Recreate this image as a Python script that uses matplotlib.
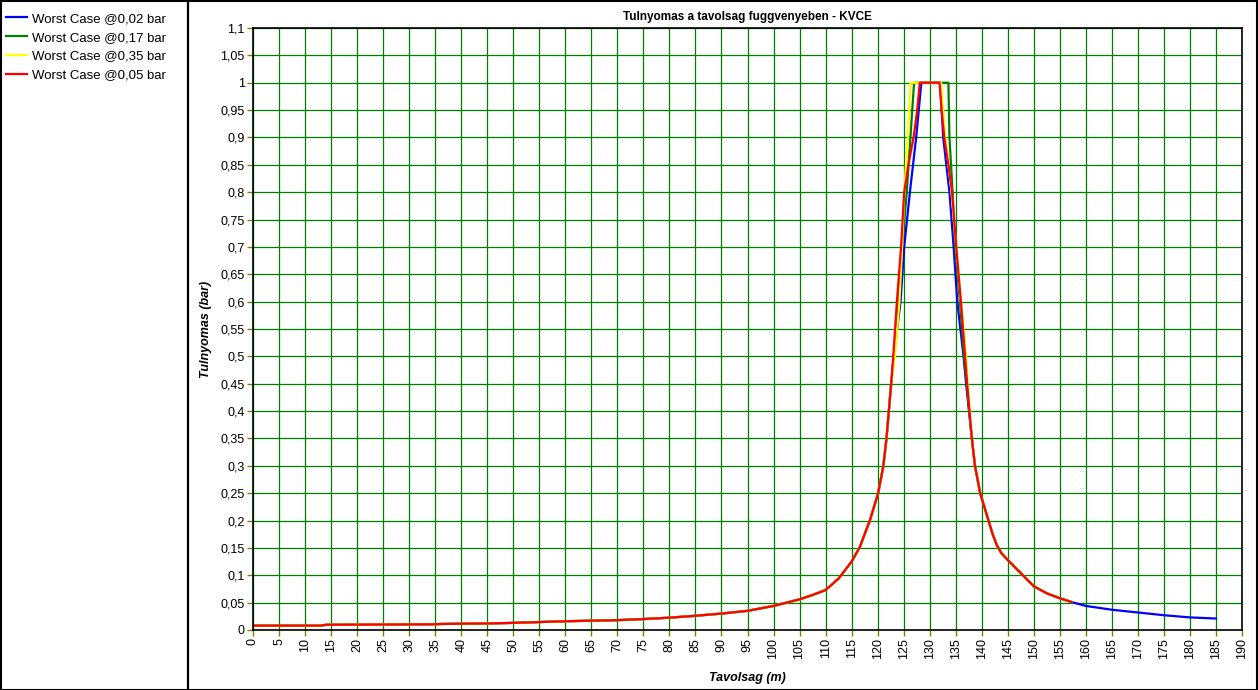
import matplotlib
matplotlib.use("Agg")
import matplotlib.pyplot as plt
from matplotlib.lines import Line2D
from matplotlib.patches import Rectangle
from matplotlib.ticker import MultipleLocator, FuncFormatter

plt.rcParams['font.family'] = ['Liberation Sans', 'DejaVu Sans']

# shared flanks of the curves (distance m, overpressure bar)
left_d = [0, 13, 14, 35, 36, 45, 50, 55, 60, 65, 70, 75, 80, 85, 90, 95,
          100, 105, 107.5, 110, 112.5, 115, 116.6, 117.5, 118.5, 120.1, 121.1, 121.7, 122.6]
left_p = [0.008, 0.008, 0.0095, 0.0105, 0.011, 0.012, 0.013, 0.0145, 0.016, 0.017,
          0.018, 0.020, 0.0225, 0.026, 0.030, 0.035, 0.044, 0.056, 0.064, 0.073, 0.094,
          0.125, 0.152, 0.175, 0.20, 0.25, 0.30, 0.35, 0.45]
right_d = [138.1, 138.7, 139.7, 141.3, 142.1, 142.9, 143.8, 145, 147.5, 150, 152.5, 155, 157.3]
right_p = [0.35, 0.30, 0.25, 0.20, 0.175, 0.155, 0.14, 0.128, 0.104, 0.080, 0.067, 0.058, 0.051]
tail_d = [160, 165, 170, 175, 180, 185]          # only the 0,02 bar case goes on
tail_p = [0.044, 0.037, 0.032, 0.027, 0.023, 0.021]

# peak sections per case
peak_d_002 = [123.1, 124.4, 125.1, 126.2, 127.4, 128.4, 132.0, 132.6, 133.8, 134.6, 135.3, 136.5, 137.0]
peak_p_002 = [0.5, 0.6, 0.7, 0.8, 0.9, 1.0, 1.0, 0.9, 0.8, 0.7, 0.6, 0.5, 0.45]
peak_d_017 = [123.1, 123.9, 124.7, 125.6, 126.3, 127.0, 133.6, 133.8, 134.4, 134.9, 135.8, 136.6, 137.1]
peak_p_017 = [0.5, 0.6, 0.7, 0.8, 0.9, 1.0, 1.0, 0.9, 0.8, 0.7, 0.6, 0.5, 0.45]
peak_d_035 = [123.3, 124.2, 124.7, 125.1, 125.8, 126.3, 132.2, 133.0, 134.2, 135.1, 136.0, 137.0, 137.3]
peak_p_035 = [0.5, 0.6, 0.7, 0.8, 0.9, 1.0, 1.0, 0.9, 0.8, 0.7, 0.6, 0.5, 0.45]
peak_d_005 = [123.0, 123.7, 124.5, 125.1, 125.9, 126.9, 127.6, 128.1, 131.9, 132.3, 132.8,
              133.6, 134.3, 135.1, 136.0, 136.8, 137.2]
peak_p_005 = [0.5, 0.6, 0.7, 0.8, 0.85, 0.9, 0.95, 1.0, 1.0, 0.95, 0.9,
              0.85, 0.8, 0.7, 0.6, 0.5, 0.45]

labels = ['Worst Case @0,02 bar', 'Worst Case @0,17 bar',
          'Worst Case @0,35 bar', 'Worst Case @0,05 bar']
colors = ['#0000ff', '#008000', '#ffff00', '#ff0000']

series = [
    (left_d + peak_d_002 + right_d + tail_d, left_p + peak_p_002 + right_p + tail_p),
    (left_d + peak_d_017 + right_d, left_p + peak_p_017 + right_p),
    (left_d + peak_d_035 + right_d, left_p + peak_p_035 + right_p),
    (left_d + peak_d_005 + right_d, left_p + peak_p_005 + right_p),
]

W, H = 1258, 690
fig = plt.figure(figsize=(W / 100, H / 100), dpi=100)
ax = fig.add_axes([253 / W, 1 - 630 / H, (1242 - 253) / W, (630 - 28) / H])

handles = []
for (d, p), c, lab in zip(series, colors, labels):
    h, = ax.plot(d, p, color=c, lw=1.6, label=lab)
    handles.append(h)

ax.set_xlim(0, 190)
ax.set_ylim(0, 1.1)
ax.xaxis.set_major_locator(MultipleLocator(5))
ax.yaxis.set_major_locator(MultipleLocator(0.05))


def comma_fmt(v, pos):
    s = ('%.2f' % v).rstrip('0').rstrip('.')
    return s.replace('.', ',')


ax.yaxis.set_major_formatter(FuncFormatter(comma_fmt))
ax.xaxis.set_major_formatter(FuncFormatter(lambda v, pos: '%d' % round(v)))
ax.grid(True, color='#008000', lw=0.9)
ax.set_axisbelow(True)
ax.tick_params(axis='both', color='#808000', length=4, width=1, labelsize=9, pad=2)
plt.setp(ax.get_xticklabels(), rotation=90)
for s in ax.spines.values():
    s.set_color('black')
    s.set_linewidth(1.2)

ax.set_title('Tulnyomas a tavolsag fuggvenyeben - KVCE', fontsize=8.5,
             fontweight='bold', pad=6)
ax.set_xlabel('Tavolsag (m)', fontsize=9, fontweight='bold', style='italic', labelpad=9)
ax.set_ylabel('Tulnyomas (bar)', fontsize=9, fontweight='bold', style='italic', labelpad=6)

# panel frames
fig.add_artist(Rectangle((0.5 / W, 0.5 / H), (W - 1.5) / W, (H - 1.5) / H,
                         transform=fig.transFigure, fill=False, ec='black', lw=1.5))
fig.add_artist(Line2D([188 / W, 188 / W], [0, 1], transform=fig.transFigure,
                      color='black', lw=1.6))

fig.legend(handles=handles, labels=labels, loc='upper left',
           bbox_to_anchor=(3 / W, 1 - 10 / H), frameon=False, fontsize=9.5,
           handlelength=1.6, handletextpad=0.4, labelspacing=0.5,
           borderaxespad=0, borderpad=0.2)

fig.savefig('out.png', dpi=100)
